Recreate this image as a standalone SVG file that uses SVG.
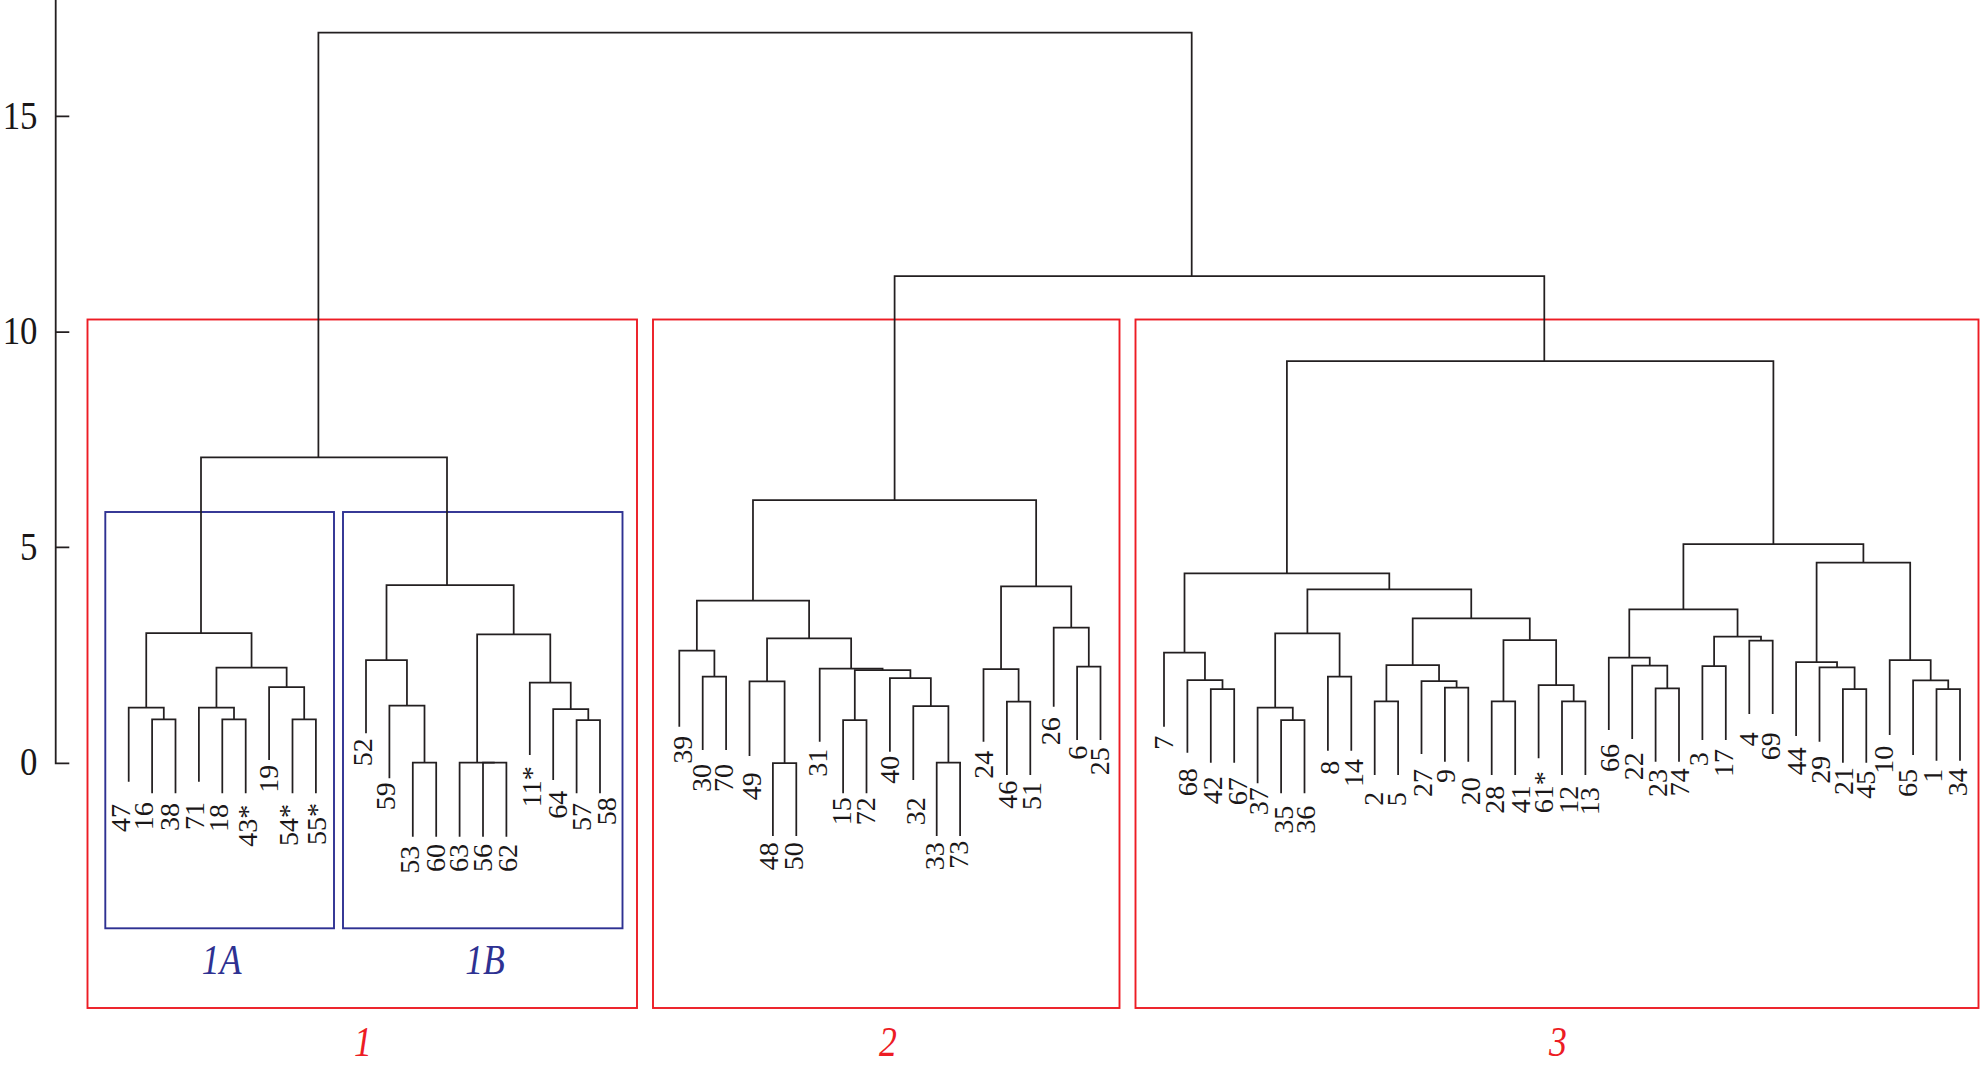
<svg xmlns="http://www.w3.org/2000/svg" width="1981" height="1069" viewBox="0 0 1981 1069">
<style>
.ln{fill:none;stroke:#231f20;stroke-width:1.75;stroke-linejoin:miter}
.ax{fill:none;stroke:#231f20;stroke-width:1.8}
.lb{font-family:"Liberation Serif","Times New Roman",serif;font-size:28px;fill:#1a1718;text-anchor:end}
.at{font-family:"Liberation Serif","Times New Roman",serif;font-size:41px;fill:#1a1718;text-anchor:end}
.rbox{fill:none;stroke:#ed1c24;stroke-width:1.9}
.bbox{fill:none;stroke:#2e3192;stroke-width:1.9}
.rt{font-family:"Liberation Serif","Times New Roman",serif;font-style:italic;font-size:42px;fill:#ed1c24;text-anchor:middle}
.bt{font-family:"Liberation Serif","Times New Roman",serif;font-style:italic;font-size:42px;fill:#2e3192;text-anchor:middle}
</style>
<rect x="0" y="0" width="1981" height="1069" fill="#ffffff"/>
<g id="axis">
<path class="ax" d="M55.7 0 V763.3 H69.3 M55.7 547.4 H69.3 M55.7 332.1 H69.3 M55.7 116.3 H69.3"/>
<text class="at" transform="translate(37.5,128.5) scale(0.85,1)">15</text>
<text class="at" transform="translate(37.5,344.3) scale(0.85,1)">10</text>
<text class="at" transform="translate(37.5,559.8) scale(0.85,1)">5</text>
<text class="at" transform="translate(37.5,775) scale(0.85,1)">0</text>
</g>
<g id="cluster-1"><rect class="rbox" x="87.5" y="319.5" width="549.5" height="688.5"/><text class="rt" transform="translate(363,1056) scale(0.85,1)">1</text></g>
<g id="cluster-2"><rect class="rbox" x="653" y="319.5" width="466.5" height="688.5"/><text class="rt" transform="translate(888,1056) scale(0.85,1)">2</text></g>
<g id="cluster-3"><rect class="rbox" x="1135.5" y="319.5" width="843" height="688.5"/><text class="rt" transform="translate(1558,1056) scale(0.85,1)">3</text></g>
<g id="cluster-1A"><rect class="bbox" x="105.3" y="512" width="228.7" height="416.3"/><text class="bt" transform="translate(221.6,974) scale(0.85,1)">1A</text></g>
<g id="cluster-1B"><rect class="bbox" x="343" y="512" width="279.5" height="416.3"/><text class="bt" transform="translate(485,974) scale(0.85,1)">1B</text></g>
<g id="connectors">
<path class="ln" d="M152.1 793.3 V719.3 H175.5 V793.3"/>
<path class="ln" d="M128.7 781.7 V707.7 H163.8 V719.3"/>
<path class="ln" d="M222.3 793.3 V719.3 H245.7 V793.3"/>
<path class="ln" d="M198.9 781.7 V707.7 H234 V719.3"/>
<path class="ln" d="M292.5 793.3 V719.3 H315.9 V793.3"/>
<path class="ln" d="M269.1 760 V687 H304.2 V719.3"/>
<path class="ln" d="M216.45 707.7 V667.7 H286.65 V687"/>
<path class="ln" d="M146.25 707.7 V633 H251.55 V667.7"/>
<path class="ln" d="M412.8 836.7 V762.7 H436.2 V836.7"/>
<path class="ln" d="M389.4 778.3 V705.7 H424.5 V762.7"/>
<path class="ln" d="M366 733.3 V660 H406.95 V705.7"/>
<path class="ln" d="M483 836.7 V762.7 H506.4 V836.7"/>
<path class="ln" d="M459.6 836.7 V762.7 H494.7"/>
<path class="ln" d="M576.6 793.3 V720 H600 V793.3"/>
<path class="ln" d="M553.2 780 V709 H588.3 V720"/>
<path class="ln" d="M529.8 755 V682.7 H570.75 V709"/>
<path class="ln" d="M477.15 762.7 V634.3 H550.3 V682.7"/>
<path class="ln" d="M386.5 660 V585 H513.7 V634.3"/>
<path class="ln" d="M201 633 V457.4 H447 V585"/>
<path class="ln" d="M318.4 457.4 V32.7 H1191.7 V276"/>
<path class="ln" d="M702.7 750 V676.7 H726.1 V750"/>
<path class="ln" d="M679.3 726.7 V650.7 H714.4 V676.7"/>
<path class="ln" d="M772.9 836 V763 H796.3 V836"/>
<path class="ln" d="M749.5 756 V681.3 H784.6 V763"/>
<path class="ln" d="M843.1 793.3 V720 H866.5 V793.3"/>
<path class="ln" d="M936.7 836 V762.7 H960.1 V836"/>
<path class="ln" d="M913.3 780 V706 H948.4 V762.7"/>
<path class="ln" d="M889.9 751.7 V678 H930.85 V706"/>
<path class="ln" d="M854.8 720 V670 H910.4 V678"/>
<path class="ln" d="M819.7 741.7 V668.7 H882.6 V670"/>
<path class="ln" d="M767.05 681.3 V638.3 H851.15 V668.7"/>
<path class="ln" d="M696.85 650.7 V600.7 H809.1 V638.3"/>
<path class="ln" d="M1006.9 775 V701.7 H1030.3 V775"/>
<path class="ln" d="M983.5 741.7 V669 H1018.6 V701.7"/>
<path class="ln" d="M1077.1 740 V666.7 H1100.5 V740"/>
<path class="ln" d="M1053.7 706.7 V627.7 H1088.8 V666.7"/>
<path class="ln" d="M1001.05 669 V586.3 H1071.25 V627.7"/>
<path class="ln" d="M752.98 600.7 V500 H1036.15 V586.3"/>
<path class="ln" d="M894.6 500 V276 H1544.3 V361"/>
<path class="ln" d="M1210.8 762.7 V689 H1234.2 V762.7"/>
<path class="ln" d="M1187.4 752.7 V680 H1222.5 V689"/>
<path class="ln" d="M1164 726.7 V652.7 H1204.95 V680"/>
<path class="ln" d="M1281.1 793.3 V720 H1304.5 V793.3"/>
<path class="ln" d="M1257.6 783.3 V707.7 H1292.8 V720"/>
<path class="ln" d="M1327.9 750.7 V676.7 H1351.3 V750.7"/>
<path class="ln" d="M1275.2 707.7 V633.3 H1339.6 V676.7"/>
<path class="ln" d="M1374.7 775 V701.3 H1398.1 V775"/>
<path class="ln" d="M1444.9 761.7 V687.7 H1468.3 V761.7"/>
<path class="ln" d="M1421.5 754 V681 H1456.6 V687.7"/>
<path class="ln" d="M1386.4 701.3 V665 H1439.05 V681"/>
<path class="ln" d="M1491.7 775 V701.3 H1515.2 V775"/>
<path class="ln" d="M1562 775 V701.3 H1585.4 V775"/>
<path class="ln" d="M1538.6 758.3 V685 H1573.7 V701.3"/>
<path class="ln" d="M1503.45 701.3 V640 H1556.15 V685"/>
<path class="ln" d="M1412.7 665 V618.3 H1529.8 V640"/>
<path class="ln" d="M1307.4 633.3 V589.3 H1471.25 V618.3"/>
<path class="ln" d="M1184.5 652.7 V573.3 H1389.3 V589.3"/>
<path class="ln" d="M1655.6 761.7 V688.3 H1679 V761.7"/>
<path class="ln" d="M1632.2 739 V665.7 H1667.3 V688.3"/>
<path class="ln" d="M1608.8 730 V657.7 H1649.75 V665.7"/>
<path class="ln" d="M1702.4 740 V666 H1725.8 V740"/>
<path class="ln" d="M1749.3 714 V640.7 H1772.7 V714"/>
<path class="ln" d="M1714.1 666 V636.7 H1761 V640.7"/>
<path class="ln" d="M1629.3 657.7 V609.3 H1737.55 V636.7"/>
<path class="ln" d="M1842.9 762.7 V689 H1866.3 V762.7"/>
<path class="ln" d="M1819.5 741.7 V667.3 H1854.6 V689"/>
<path class="ln" d="M1796.1 736 V662 H1837.05 V667.3"/>
<path class="ln" d="M1936.5 760.7 V689 H1960 V760.7"/>
<path class="ln" d="M1913.1 755 V680.3 H1948.25 V689"/>
<path class="ln" d="M1889.7 735 V660 H1930.7 V680.3"/>
<path class="ln" d="M1816.6 662 V562.7 H1910.2 V660"/>
<path class="ln" d="M1683.4 609.3 V544 H1863.4 V562.7"/>
<path class="ln" d="M1286.9 573.3 V361 H1773.4 V544"/>
</g>
<g id="leaves">
<g id="leaf-47"><text class="lb" transform="translate(130,804) rotate(-90)">47</text></g>
<g id="leaf-16"><text class="lb" transform="translate(153.3,802.3) rotate(-90)">16</text></g>
<g id="leaf-38"><text class="lb" transform="translate(179.3,803) rotate(-90)">38</text></g>
<g id="leaf-71"><text class="lb" transform="translate(204,802) rotate(-90)">71</text></g>
<g id="leaf-18"><text class="lb" transform="translate(228.3,804) rotate(-90)">18</text></g>
<g id="leaf-43"><text class="lb" transform="translate(256.7,804.7) rotate(-90)">43*</text></g>
<g id="leaf-19"><text class="lb" transform="translate(278.3,764.7) rotate(-90)">19</text></g>
<g id="leaf-54"><text class="lb" transform="translate(298.3,804) rotate(-90)">54*</text></g>
<g id="leaf-55"><text class="lb" transform="translate(326,803) rotate(-90)">55*</text></g>
<g id="leaf-52"><text class="lb" transform="translate(371.7,738.3) rotate(-90)">52</text></g>
<g id="leaf-59"><text class="lb" transform="translate(395,782.3) rotate(-90)">59</text></g>
<g id="leaf-53"><text class="lb" transform="translate(419.3,845.7) rotate(-90)">53</text></g>
<g id="leaf-60"><text class="lb" transform="translate(445,844) rotate(-90)">60</text></g>
<g id="leaf-63"><text class="lb" transform="translate(468.3,844) rotate(-90)">63</text></g>
<g id="leaf-56"><text class="lb" transform="translate(492.3,844) rotate(-90)">56</text></g>
<g id="leaf-62"><text class="lb" transform="translate(517.3,844) rotate(-90)">62</text></g>
<g id="leaf-11"><text class="lb" transform="translate(540.7,766.3) rotate(-90)">11*</text></g>
<g id="leaf-64"><text class="lb" transform="translate(566.7,790.7) rotate(-90)">64</text></g>
<g id="leaf-57"><text class="lb" transform="translate(590.7,803) rotate(-90)">57</text></g>
<g id="leaf-58"><text class="lb" transform="translate(616,797.3) rotate(-90)">58</text></g>
<g id="leaf-39"><text class="lb" transform="translate(691.7,735.7) rotate(-90)">39</text></g>
<g id="leaf-30"><text class="lb" transform="translate(710.7,764) rotate(-90)">30</text></g>
<g id="leaf-70"><text class="lb" transform="translate(733.3,764) rotate(-90)">70</text></g>
<g id="leaf-49"><text class="lb" transform="translate(760.7,772.3) rotate(-90)">49</text></g>
<g id="leaf-48"><text class="lb" transform="translate(778.3,842.3) rotate(-90)">48</text></g>
<g id="leaf-50"><text class="lb" transform="translate(803.3,842.3) rotate(-90)">50</text></g>
<g id="leaf-31"><text class="lb" transform="translate(826.7,748.7) rotate(-90)">31</text></g>
<g id="leaf-15"><text class="lb" transform="translate(850.7,797.3) rotate(-90)">15</text></g>
<g id="leaf-72"><text class="lb" transform="translate(875,797.3) rotate(-90)">72</text></g>
<g id="leaf-40"><text class="lb" transform="translate(899.3,755.7) rotate(-90)">40</text></g>
<g id="leaf-32"><text class="lb" transform="translate(925,797.3) rotate(-90)">32</text></g>
<g id="leaf-33"><text class="lb" transform="translate(944,842.3) rotate(-90)">33</text></g>
<g id="leaf-73"><text class="lb" transform="translate(968.3,840.7) rotate(-90)">73</text></g>
<g id="leaf-24"><text class="lb" transform="translate(992.7,750.7) rotate(-90)">24</text></g>
<g id="leaf-46"><text class="lb" transform="translate(1016.7,780.7) rotate(-90)">46</text></g>
<g id="leaf-51"><text class="lb" transform="translate(1040.7,782) rotate(-90)">51</text></g>
<g id="leaf-26"><text class="lb" transform="translate(1060,717.3) rotate(-90)">26</text></g>
<g id="leaf-6"><text class="lb" transform="translate(1086.7,745.7) rotate(-90)">6</text></g>
<g id="leaf-25"><text class="lb" transform="translate(1109.3,747.3) rotate(-90)">25</text></g>
<g id="leaf-7"><text class="lb" transform="translate(1172.7,735.7) rotate(-90)">7</text></g>
<g id="leaf-68"><text class="lb" transform="translate(1196.7,768.3) rotate(-90)">68</text></g>
<g id="leaf-42"><text class="lb" transform="translate(1221.7,776.3) rotate(-90)">42</text></g>
<g id="leaf-67"><text class="lb" transform="translate(1246.7,777.3) rotate(-90)">67</text></g>
<g id="leaf-37"><text class="lb" transform="translate(1268.3,787.3) rotate(-90)">37</text></g>
<g id="leaf-35"><text class="lb" transform="translate(1292.7,805.7) rotate(-90)">35</text></g>
<g id="leaf-36"><text class="lb" transform="translate(1315,805.7) rotate(-90)">36</text></g>
<g id="leaf-8"><text class="lb" transform="translate(1339.3,760.7) rotate(-90)">8</text></g>
<g id="leaf-14"><text class="lb" transform="translate(1362.7,759) rotate(-90)">14</text></g>
<g id="leaf-2"><text class="lb" transform="translate(1383.3,791.7) rotate(-90)">2</text></g>
<g id="leaf-5"><text class="lb" transform="translate(1406,792.3) rotate(-90)">5</text></g>
<g id="leaf-27"><text class="lb" transform="translate(1431.7,769) rotate(-90)">27</text></g>
<g id="leaf-9"><text class="lb" transform="translate(1455,769) rotate(-90)">9</text></g>
<g id="leaf-20"><text class="lb" transform="translate(1480,777.3) rotate(-90)">20</text></g>
<g id="leaf-28"><text class="lb" transform="translate(1504,785.7) rotate(-90)">28</text></g>
<g id="leaf-41"><text class="lb" transform="translate(1530,785.3) rotate(-90)">41</text></g>
<g id="leaf-61"><text class="lb" transform="translate(1553.3,771.3) rotate(-90)">61*</text></g>
<g id="leaf-12"><text class="lb" transform="translate(1578.3,785.7) rotate(-90)">12</text></g>
<g id="leaf-13"><text class="lb" transform="translate(1599.3,787.3) rotate(-90)">13</text></g>
<g id="leaf-66"><text class="lb" transform="translate(1619.3,744) rotate(-90)">66</text></g>
<g id="leaf-22"><text class="lb" transform="translate(1642.7,752.3) rotate(-90)">22</text></g>
<g id="leaf-23"><text class="lb" transform="translate(1667.3,769) rotate(-90)">23</text></g>
<g id="leaf-74"><text class="lb" transform="translate(1689.3,768.3) rotate(-90)">74</text></g>
<g id="leaf-3"><text class="lb" transform="translate(1708.3,752.3) rotate(-90)">3</text></g>
<g id="leaf-17"><text class="lb" transform="translate(1733.3,749) rotate(-90)">17</text></g>
<g id="leaf-4"><text class="lb" transform="translate(1758.3,732.3) rotate(-90)">4</text></g>
<g id="leaf-69"><text class="lb" transform="translate(1780,732.3) rotate(-90)">69</text></g>
<g id="leaf-44"><text class="lb" transform="translate(1806,747.3) rotate(-90)">44</text></g>
<g id="leaf-29"><text class="lb" transform="translate(1830,755.7) rotate(-90)">29</text></g>
<g id="leaf-21"><text class="lb" transform="translate(1853.3,767) rotate(-90)">21</text></g>
<g id="leaf-45"><text class="lb" transform="translate(1875,770.7) rotate(-90)">45</text></g>
<g id="leaf-10"><text class="lb" transform="translate(1893.3,745.7) rotate(-90)">10</text></g>
<g id="leaf-65"><text class="lb" transform="translate(1916.7,769) rotate(-90)">65</text></g>
<g id="leaf-1"><text class="lb" transform="translate(1941.7,768.7) rotate(-90)">1</text></g>
<g id="leaf-34"><text class="lb" transform="translate(1966.7,768.3) rotate(-90)">34</text></g>
</g>
</svg>
